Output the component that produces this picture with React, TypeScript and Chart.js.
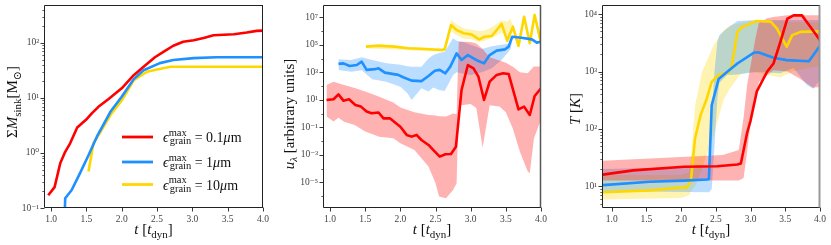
import React, { useEffect, useRef } from "react";
import { Chart, registerables } from "chart.js";
Chart.register(...registerables);

const SERIF = "'Liberation Serif', 'DejaVu Serif', serif";
const RED = "#ff0000";
const BLUE = "#1e90ff";
const GOLD = "#ffd700";
const RED_BAND = "rgba(255,0,0,0.3)";
const BLUE_BAND = "rgba(30,144,255,0.3)";
const GOLD_BAND = "rgba(255,215,0,0.3)";

// shared time axis
const T_TICKS = [1.0, 1.5, 2.0, 2.5, 3.0, 3.5, 4.0];
const T_TICK_LABELS = ["1.0", "1.5", "2.0", "2.5", "3.0", "3.5", "4.0"];
const LEGEND_SIZES = ["0.1", "1", "10"];

// ---------- Panel 1: sink mass ----------
const MASS_TICKS = [0.1, 1, 10, 100];
const MASS_TICK_LABELS = ["10⁻¹", "10⁰", "10¹", "10²"];
const MASS_T_RED = [0.96, 1.05, 1.13, 1.2, 1.27, 1.37, 1.51, 1.58, 1.67, 1.81, 2.0, 2.17, 2.31, 2.47, 2.59, 2.73, 2.87, 3.02, 3.16, 3.3, 3.59, 3.77, 3.91, 4.0];
const MASS_RED = [0.17, 0.24, 0.65, 1.05, 1.5, 2.9, 4.2, 5.3, 6.9, 9.5, 15, 26, 37, 55, 69, 89, 105, 112, 123, 138, 144, 155, 166, 168];
const MASS_T_BLUE = [1.19, 1.2, 1.29, 1.41, 1.53, 1.65, 1.84, 2.0, 2.17, 2.31, 2.54, 2.73, 3.02, 3.34, 4.0];
const MASS_BLUE = [0.05, 0.15, 0.21, 0.43, 0.91, 2.0, 5.6, 10.5, 22, 32, 43, 49, 53, 55, 55];
const MASS_T_GOLD = [1.53, 1.6, 1.69, 1.84, 2.0, 2.17, 2.36, 2.5, 2.69, 4.0];
const MASS_GOLD = [0.46, 1.5, 2.3, 4.9, 9, 21, 30, 33, 37, 37];

// ---------- Panel 2: u_lambda ----------
const U_TICKS = [1e-5, 1e-3, 1e-1, 1e1, 1e3, 1e5, 1e7];
const U_TICK_LABELS = ["10⁻⁵", "10⁻³", "10⁻¹", "10¹", "10³", "10⁵", "10⁷"];
const U_T_RED = [0.95, 1.05, 1.12, 1.19, 1.27, 1.36, 1.44, 1.52, 1.59, 1.69, 1.76, 1.85, 2.0, 2.09, 2.16, 2.23, 2.3, 2.4, 2.47, 2.56, 2.64, 2.72, 2.79, 2.87, 2.96, 3.04, 3.11, 3.19, 3.27, 3.37, 3.46, 3.54, 3.59, 3.68, 3.76, 3.84, 3.91, 4.0];
const U_RED = [9.8, 11, 25, 8.7, 11, 4.2, 3.2, 1.4, 1.05, 1.2, 0.45, 0.45, 0.11, 0.028, 0.021, 0.028, 0.012, 0.0052, 0.0022, 7.4e-4, 1.1e-3, 1.15e-3, 3.9e-3, 52, 3400, 1950, 480, 9.8, 210, 650, 850, 760, 91, 2.0, 3.2, 0.79, 19, 69];
const U_BAND_T_RED = [0.95, 1.05, 1.12, 1.2, 1.35, 1.5, 1.7, 1.9, 2.0, 2.2, 2.4, 2.5, 2.55, 2.65, 2.75, 2.8, 2.83, 2.87, 3.0, 3.08, 3.17, 3.27, 3.41, 3.5, 3.6, 3.7, 3.81, 3.84, 3.9, 4.0];
const U_RED_HIGH = [120, 210, 160, 120, 71, 40, 17, 6.3, 2.8, 1.26, 0.79, 0.71, 0.63, 0.6, 1.0, 0.89, 1.6e5, 1.7e5, 1.6e5, 1.26e5, 5e4, 1.26e4, 7100, 5000, 2500, 1000, 850, 1260, 2600, 2600];
const U_RED_LOW = [0.6, 0.26, 0.5, 0.25, 0.15, 0.05, 0.021, 0.016, 0.0069, 0.0022, 1.4e-4, 8.5e-6, 9.1e-7, 6.9e-7, 2.8e-6, 8.5e-6, 6.3, 4.0, 5.0, 2.5, 0.0032, 4.0, 3.2, 1.26, 0.079, 0.0017, 6.3e-5, 4.5e-5, 0.016, 0.35];
const U_T_BLUE = [1.12, 1.19, 1.28, 1.38, 1.45, 1.52, 1.64, 1.69, 1.78, 1.97, 2.04, 2.16, 2.3, 2.4, 2.49, 2.56, 2.64, 2.71, 2.8, 2.87, 2.96, 3.04, 3.11, 3.19, 3.27, 3.37, 3.49, 3.54, 3.59, 3.72, 3.87, 3.94, 4.0];
const U_BLUE = [4100, 4500, 2900, 3400, 6000, 1500, 1700, 1950, 950, 650, 440, 250, 230, 540, 1300, 1500, 850, 2600, 2.4e4, 7900, 1.8e4, 1.05e4, 6600, 4500, 1.8e4, 3.8e4, 4.7e4, 7.4e4, 3.9e5, 3.3e5, 2.5e5, 1.45e5, 1.7e5];
const U_BAND_T_BLUE = [1.12, 1.3, 1.45, 1.6, 1.8, 2.0, 2.1, 2.16, 2.3, 2.4, 2.47, 2.55, 2.63, 2.75, 2.8, 2.9, 3.0, 3.16, 3.3, 3.44, 3.57, 3.6];
const U_BLUE_HIGH = [8900, 7900, 1.26e4, 7900, 4500, 3500, 2800, 2500, 2500, 1e4, 1.8e4, 2.5e4, 3.2e4, 3.0e5, 2.0e5, 1.6e5, 1e5, 5e4, 7.9e4, 1e5, 1.26e5, 3.9e5];
const U_BLUE_LOW = [1500, 1100, 1400, 320, 210, 91, 30, 9.8, 69, 40, 79, 52, 44, 630, 1000, 790, 630, 1000, 2000, 7900, 5e4, 3.9e5];
const U_T_GOLD = [1.51, 1.69, 1.92, 2.11, 2.35, 2.59, 2.63, 2.72, 2.8, 2.9, 3.01, 3.12, 3.2, 3.3, 3.44, 3.52, 3.6, 3.68, 3.76, 3.84, 3.91, 4.0];
const U_GOLD = [7.4e4, 8.7e4, 7.4e4, 5.6e4, 5.0e4, 4.2e4, 4.7e4, 2.75e6, 1.2e6, 6.9e5, 5.8e5, 2.5e5, 3.9e5, 4.4e5, 3.3e6, 2.0e5, 2.1e6, 8.3e4, 1.1e7, 1.3e5, 1.5e7, 1.3e5];
const U_BAND_T_GOLD = [1.51, 2.59, 2.63, 2.72, 2.8, 2.9, 3.01, 3.12, 3.2, 3.3, 3.44, 3.52, 3.57, 3.6];
const U_GOLD_HIGH = [9.8e4, 5.5e4, 6.3e4, 6.3e6, 3.2e6, 1.6e6, 1.26e6, 1e6, 1.12e6, 2e6, 5.6e6, 5e6, 7.9e6, 2.1e6];
const U_GOLD_LOW = [5.6e4, 3.2e4, 3.5e4, 1e6, 5e5, 2.8e5, 2.5e5, 1.6e5, 2e5, 3.2e5, 7.9e5, 3.2e5, 4e5, 2.1e6];

// ---------- Panel 3: temperature ----------
const TEMP_TICKS = [10, 100, 1000, 10000];
const TEMP_TICK_LABELS = ["10¹", "10²", "10³", "10⁴"];
const K_T_RED = [0.87, 1.31, 2.04, 2.52, 2.81, 2.86, 2.95, 3.0, 3.09, 3.24, 3.33, 3.43, 3.53, 3.62, 3.74, 3.86, 4.0];
const K_RED = [16, 19, 22, 22.4, 24, 25, 85, 140, 450, 1000, 1380, 3300, 8300, 9500, 9500, 6000, 3500];
const K_BAND_T_RED = [0.87, 2.6, 2.75, 2.83, 2.9, 2.95, 3.0, 3.07, 3.12, 3.24, 3.33, 3.53, 3.7, 3.9, 4.0];
const K_RED_HIGH = [28, 35, 40, 43, 160, 580, 1260, 3800, 7100, 8500, 8900, 9500, 9500, 9500, 9500];
const K_RED_LOW = [12.6, 12.6, 12.6, 12.6, 14, 40, 130, 320, 660, 870, 1050, 1000, 760, 520, 540];
const K_T_BLUE = [0.87, 1.55, 2.04, 2.37, 2.4, 2.44, 2.54, 2.66, 2.81, 3.05, 3.12, 3.33, 3.52, 3.84, 4.0];
const K_BLUE = [10.5, 12, 12.6, 13.2, 13.5, 257, 740, 980, 1380, 2140, 2140, 1740, 1580, 1510, 2800];
const K_BAND_T_BLUE = [0.87, 2.4, 2.44, 2.48, 2.52, 2.55, 2.66, 2.81, 3.09, 3.43, 3.62, 3.81, 3.9, 4.0];
const K_BLUE_HIGH = [20, 22, 160, 1000, 3200, 4300, 5600, 7600, 7900, 7900, 7900, 7900, 7900, 7900];
const K_BLUE_LOW = [8.3, 7.9, 8.9, 50, 320, 630, 870, 890, 980, 930, 1150, 580, 500, 710];
const K_T_GOLD = [0.87, 1.55, 1.99, 2.08, 2.14, 2.2, 2.28, 2.37, 2.44, 2.54, 2.69, 2.73, 2.81, 2.88, 3.09, 3.29, 3.38, 3.52, 3.6, 3.72, 4.0];
const K_GOLD = [7.9, 8.5, 9.5, 9.5, 12.6, 68, 174, 340, 660, 870, 980, 1260, 4900, 6000, 7600, 7400, 5600, 2700, 4300, 4900, 5000];
const K_BAND_T_GOLD = [0.87, 2.0, 2.12, 2.15, 2.2, 2.3, 2.47, 2.61, 2.7, 2.85, 3.0, 3.43, 3.6, 4.0];
const K_GOLD_HIGH = [15.8, 15.8, 17.8, 40, 257, 980, 2900, 5200, 6300, 7100, 7600, 7600, 7200, 7200];
const K_GOLD_LOW = [5.9, 6.3, 7.1, 8.5, 10, 20, 79, 320, 500, 890, 1000, 790, 1000, 1260];

type Seg = { t: string; it?: boolean; sub?: boolean; sup?: boolean; stack?: [string, string] };

const X_TITLE: Seg[] = [{ t: "t", it: true }, { t: " [" }, { t: "t", it: true }, { t: "dyn", sub: true }, { t: "]" }];
const Y1_TITLE: Seg[] = [{ t: "Σ" }, { t: "M", it: true }, { t: "sink", sub: true }, { t: "[M" }, { t: "⊙", sub: true }, { t: "]" }];
const Y2_TITLE: Seg[] = [{ t: "u", it: true }, { t: "λ", it: true, sub: true }, { t: " [arbitrary units]" }];
const Y3_TITLE: Seg[] = [{ t: "T", it: true }, { t: " [" }, { t: "K", it: true }, { t: "]" }];

const fnt = (size: number, it?: boolean) => `${it ? "italic " : ""}${size}px ${SERIF}`;

function richWidth(ctx: CanvasRenderingContext2D, segs: Seg[], size: number, small: number) {
  let w = 0;
  for (const s of segs) {
    if (s.stack) {
      ctx.font = fnt(small);
      w += Math.max(ctx.measureText(s.stack[0]).width, ctx.measureText(s.stack[1]).width);
    } else {
      ctx.font = fnt(s.sub || s.sup ? small : size, s.it);
      w += ctx.measureText(s.t).width;
    }
  }
  return w;
}

function drawRich(ctx: CanvasRenderingContext2D, segs: Seg[], x0: number, y0: number, size: number, small: number) {
  let x = x0;
  ctx.textAlign = "left";
  ctx.textBaseline = "alphabetic";
  for (const s of segs) {
    if (s.stack) {
      ctx.font = fnt(small);
      ctx.fillText(s.stack[0], x, y0 - size * 0.46);
      ctx.fillText(s.stack[1], x + 1, y0 + size * 0.15);
      x += Math.max(ctx.measureText(s.stack[0]).width, ctx.measureText(s.stack[1]).width + 1);
    } else {
      const sz = s.sub || s.sup ? small : size;
      ctx.font = fnt(sz, s.it);
      const dy = s.sub ? size * 0.25 : s.sup ? -size * 0.4 : 0;
      ctx.fillText(s.t, x, y0 + dy);
      x += ctx.measureText(s.t).width;
    }
  }
}

function decadeMinors(lo: number, hi: number, oddDecadesOnly: boolean) {
  const out: number[] = [];
  for (let d = Math.floor(Math.log10(lo)) - 1; d <= Math.ceil(Math.log10(hi)); d++) {
    if (oddDecadesOnly) {
      const v = Math.pow(10, d);
      if (Math.abs(d) % 2 === 0 && v >= lo && v <= hi) out.push(v);
    } else {
      for (let k = 2; k <= 9; k++) {
        const v = k * Math.pow(10, d);
        if (v >= lo && v <= hi) out.push(v);
      }
    }
  }
  return out;
}

const pts = (t: number[], v: number[]) => t.map((x, i) => ({ x, y: v[i] }));

function lineDs(t: number[], v: number[], color: string) {
  return { data: pts(t, v), borderColor: color, borderWidth: 2.6, pointRadius: 0, tension: 0, fill: false, borderJoinStyle: "round" as const };
}
function bandDs(t: number[], lo: number[], hi: number[], color: string) {
  return [
    { data: pts(t, lo), borderWidth: 0, borderColor: "rgba(0,0,0,0)", pointRadius: 0, tension: 0, fill: false },
    { data: pts(t, hi), borderWidth: 0, borderColor: "rgba(0,0,0,0)", pointRadius: 0, tension: 0, fill: "-1", backgroundColor: color },
  ];
}

type PanelCfg = {
  canvasWidth: number;
  yWidth: number;
  rightPad: number;
  xMin: number;
  yMin: number;
  yMax: number;
  yTicks: number[];
  yLabels: string[];
  minorY: number[];
  datasets: any[];
  yTitle: Seg[];
  yTitleX: number;
  yTitleCY: number;
  rightSpine: [string, number];
  legend?: boolean;
};

function makeChart(canvas: HTMLCanvasElement, cfg: PanelCfg) {
  const decor = {
    id: "decor",
    afterDraw(chart: any) {
      const { ctx, chartArea: ca, scales } = chart;
      const xs = scales.x;
      const ys = scales.y;
      ctx.save();
      const L = Math.floor(ca.left) + 0.5;
      const R = Math.round(ca.right) - 0.5;
      const T = Math.floor(ca.top) + 0.5;
      const B = Math.round(ca.bottom) - 0.5;
      ctx.strokeStyle = "#222";
      ctx.lineWidth = 0.9;
      const seg = (x1: number, y1: number, x2: number, y2: number) => {
        ctx.beginPath();
        ctx.moveTo(x1, y1);
        ctx.lineTo(x2, y2);
        ctx.stroke();
      };
      for (const v of T_TICKS) {
        const px = Math.round(xs.getPixelForValue(v)) + 0.5;
        seg(px, B, px, B + 4);
      }
      for (const v of cfg.yTicks) {
        const py = Math.round(ys.getPixelForValue(v)) + 0.5;
        seg(L, py, L - 4, py);
      }
      ctx.lineWidth = 0.7;
      for (const v of cfg.minorY) {
        const py = Math.round(ys.getPixelForValue(v)) + 0.5;
        seg(L, py, L - 2.2, py);
      }
      ctx.lineWidth = 1;
      ctx.strokeStyle = "#222";
      seg(L, T, L, B);
      seg(L, B, R + 0.5, B);
      seg(L, T, R + 0.5, T);
      ctx.strokeStyle = cfg.rightSpine[0];
      ctx.lineWidth = cfg.rightSpine[1];
      seg(R, T, R, B);

      ctx.fillStyle = "#111";
      // x title
      const xw = richWidth(ctx, X_TITLE, 15, 11);
      drawRich(ctx, X_TITLE, (ca.left + ca.right) / 2 - xw / 2, 234, 15, 11);
      // y title
      const yw = richWidth(ctx, cfg.yTitle, 15, 11);
      ctx.save();
      ctx.translate(cfg.yTitleX, cfg.yTitleCY);
      ctx.rotate(-Math.PI / 2);
      drawRich(ctx, cfg.yTitle, -yw / 2, 0, 15, 11);
      ctx.restore();

      if (cfg.legend) {
        const colors = [RED, BLUE, GOLD];
        const rowsY = [ca.bottom - 71, ca.bottom - 46, ca.bottom - 23.5];
        LEGEND_SIZES.forEach((sz, i) => {
          const y = rowsY[i];
          ctx.strokeStyle = colors[i];
          ctx.lineWidth = 2.8;
          seg(ca.left + 78, y, ca.left + 109, y);
          ctx.fillStyle = "#111";
          drawRich(
            ctx,
            [{ t: "ϵ", it: true }, { t: "", stack: ["max", "grain"] }, { t: " = " + sz }, { t: "μ", it: true }, { t: "m" }],
            ca.left + 119,
            y + 5,
            14,
            10.5
          );
        });
      }
      ctx.restore();
    },
  };

  return new Chart(canvas, {
    type: "line",
    data: { datasets: cfg.datasets },
    plugins: [decor],
    options: {
      animation: false,
      responsive: false,
      maintainAspectRatio: false,
      events: [],
      layout: { padding: { top: 5, right: cfg.rightPad, left: 0, bottom: 0 } },
      plugins: { legend: { display: false }, tooltip: { enabled: false }, title: { display: false } },
      scales: {
        x: {
          type: "linear",
          min: cfg.xMin,
          max: 4.0,
          bounds: "data",
          grid: { display: false, drawTicks: false },
          border: { display: false },
          ticks: {
            autoSkip: false,
            maxRotation: 0,
            padding: 6,
            color: "#444",
            font: { family: SERIF, size: 9.5 },
            callback: (_v: any, i: number) => T_TICK_LABELS[i],
          },
          afterBuildTicks: (s: any) => {
            s.ticks = T_TICKS.map((v) => ({ value: v }));
          },
          afterFit: (s: any) => {
            s.height = 37;
            s.paddingLeft = 0;
            s.paddingRight = 0;
          },
        },
        y: {
          type: "logarithmic",
          min: cfg.yMin,
          max: cfg.yMax,
          bounds: "data",
          grid: { display: false, drawTicks: false },
          border: { display: false },
          ticks: {
            autoSkip: false,
            padding: 5,
            color: "#444",
            font: { family: SERIF, size: 9.5 },
            callback: (_v: any, i: number) => cfg.yLabels[i],
          },
          afterBuildTicks: (s: any) => {
            s.ticks = cfg.yTicks.map((v) => ({ value: v }));
          },
          afterFit: (s: any) => {
            s.width = cfg.yWidth;
            s.paddingTop = 0;
            s.paddingBottom = 0;
          },
        },
      },
    } as any,
  });
}

export default function App() {
  const r1 = useRef<HTMLCanvasElement>(null);
  const r2 = useRef<HTMLCanvasElement>(null);
  const r3 = useRef<HTMLCanvasElement>(null);

  useEffect(() => {
    const m1 = [0.1, 490];
    const m2 = [1.35e-7, 7.9e7];
    const m3 = [4.2, 14400];
    const c1 = makeChart(r1.current!, {
      canvasWidth: 277,
      yWidth: 44,
      rightPad: 14,
      xMin: 0.9,
      yMin: m1[0],
      yMax: m1[1],
      yTicks: MASS_TICKS,
      yLabels: MASS_TICK_LABELS,
      minorY: decadeMinors(m1[0], m1[1], false),
      datasets: [lineDs(MASS_T_RED, MASS_RED, RED), lineDs(MASS_T_BLUE, MASS_BLUE, BLUE), lineDs(MASS_T_GOLD, MASS_GOLD, GOLD)],
      yTitle: Y1_TITLE,
      yTitleX: 17,
      yTitleCY: 102,
      rightSpine: ["#222", 1],
      legend: true,
    });
    const c2 = makeChart(r2.current!, {
      canvasWidth: 277,
      yWidth: 46,
      rightPad: 13,
      xMin: 0.9,
      yMin: m2[0],
      yMax: m2[1],
      yTicks: U_TICKS,
      yLabels: U_TICK_LABELS,
      minorY: decadeMinors(m2[0], m2[1], true),
      datasets: [
        lineDs(U_T_RED, U_RED, RED),
        lineDs(U_T_BLUE, U_BLUE, BLUE),
        lineDs(U_T_GOLD, U_GOLD, GOLD),
        ...bandDs(U_BAND_T_RED, U_RED_LOW, U_RED_HIGH, RED_BAND),
        ...bandDs(U_BAND_T_BLUE, U_BLUE_LOW, U_BLUE_HIGH, BLUE_BAND),
        ...bandDs(U_BAND_T_GOLD, U_GOLD_LOW, U_GOLD_HIGH, GOLD_BAND),
      ],
      yTitle: Y2_TITLE,
      yTitleX: 16.5,
      yTitleCY: 114,
      rightSpine: ["#555", 1.5],
    });
    const c3 = makeChart(r3.current!, {
      canvasWidth: 277,
      yWidth: 48,
      rightPad: 11,
      xMin: 0.86,
      yMin: m3[0],
      yMax: m3[1],
      yTicks: TEMP_TICKS,
      yLabels: TEMP_TICK_LABELS,
      minorY: decadeMinors(m3[0], m3[1], false),
      datasets: [
        lineDs(K_T_RED, K_RED, RED),
        lineDs(K_T_BLUE, K_BLUE, BLUE),
        lineDs(K_T_GOLD, K_GOLD, GOLD),
        ...bandDs(K_BAND_T_RED, K_RED_LOW, K_RED_HIGH, RED_BAND),
        ...bandDs(K_BAND_T_BLUE, K_BLUE_LOW, K_BLUE_HIGH, BLUE_BAND),
        ...bandDs(K_BAND_T_GOLD, K_GOLD_LOW, K_GOLD_HIGH, GOLD_BAND),
      ],
      yTitle: Y3_TITLE,
      yTitleX: 25.5,
      yTitleCY: 109,
      rightSpine: ["#999", 2],
    });
    return () => {
      c1.destroy();
      c2.destroy();
      c3.destroy();
    };
  }, []);

  const cs = (left: number): React.CSSProperties => ({ position: "absolute", left, top: 0, width: 277, height: 245 });
  return (
    <div style={{ position: "fixed", left: 0, top: 0, width: 831, height: 245, background: "#fff" }}>
      <canvas ref={r1} width={277} height={245} style={cs(0)} />
      <canvas ref={r2} width={277} height={245} style={cs(277)} />
      <canvas ref={r3} width={277} height={245} style={cs(554)} />
    </div>
  );
}
